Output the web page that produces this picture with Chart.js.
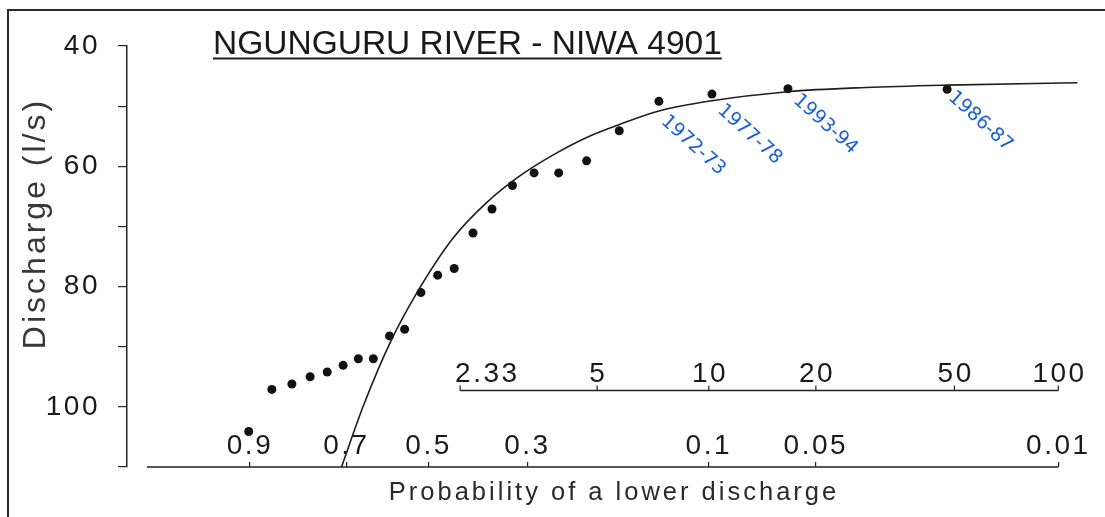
<!DOCTYPE html>
<html>
<head>
<meta charset="utf-8">
<script src="https://cdn.jsdelivr.net/npm/chart.js@4.4.0/dist/chart.umd.min.js"></script>
<style>
  html, body { margin: 0; padding: 0; background: #fff; }
  canvas { display: block; }
</style>
</head>
<body>
<canvas id="myChart" width="1105" height="517"></canvas>
<script>
// annual low flows: probability of a lower discharge, discharge (l/s)
var pointProb = [0.902, 0.863, 0.824, 0.785, 0.746, 0.708, 0.671, 0.634, 0.594, 0.557, 0.518, 0.479,
                 0.442, 0.402, 0.364, 0.326, 0.289, 0.251, 0.213, 0.175, 0.137, 0.098, 0.060, 0.021];
var pointFlow = [104.1, 97.1, 96.2, 95.0, 94.2, 93.1, 92.0, 92.0, 88.2, 87.1, 81.0, 78.1,
                 77.0, 71.1, 67.1, 63.2, 61.1, 61.1, 59.1, 54.1, 49.2, 48.0, 47.1, 47.2];

// fitted curve
var curveProb = [0.712, 0.659, 0.593, 0.528, 0.444, 0.374, 0.313, 0.259, 0.213, 0.174, 0.137, 0.098, 0.060, 0.036, 0.021, 0.0088];
var curveFlow = [110.0, 99.9, 89.4, 81.1, 71.9, 66.0, 61.6, 58.1, 55.2, 53.0, 50.8, 49.1, 47.6, 46.9, 46.5, 46.1];

// probability axis
var probTicks = [0.9, 0.7, 0.5, 0.3, 0.1, 0.05, 0.01];
var probLabels = ['0.9', '0.7', '0.5', '0.3', '0.1', '0.05', '0.01'];
var probAxisEnds = [0.99, 0.01];

// return period axis (years)
var returnPeriods = [2.33, 5, 10, 20, 50, 100];
var returnLabels = ['2.33', '5', '10', '20', '50', '100'];

// hand written notes
var noteText = ['1972-73', '1977-78', '1993-94', '1986-87'];
var noteProb = [0.133, 0.093, 0.057, 0.0205];
var noteFlow = [52.1, 50.3, 48.6, 48.1];

// gumbel reduced variate for a probability of a lower value
function gumbel(p) {
  return -Math.log(-Math.log(1 - p));
}

var TICK_FONT = '"Liberation Sans", Arial, sans-serif';

var scanPlugin = {
  id: 'scan',
  beforeDraw: function(chart) {
    var ctx = chart.ctx;
    ctx.save();
    ctx.fillStyle = '#fff';
    ctx.fillRect(0, 0, chart.width, chart.height);
    ctx.strokeStyle = '#2a2a2a';
    ctx.lineWidth = 2;
    ctx.beginPath();
    ctx.moveTo(8, chart.height);
    ctx.lineTo(8, 10);
    ctx.lineTo(chart.width, 10);
    ctx.stroke();
    ctx.restore();
    ctx.letterSpacing = '2.5px';
  },
  afterDraw: function(chart) {
    var ctx = chart.ctx;
    var xs = chart.scales.x, ys = chart.scales.y;
    var area = chart.chartArea;
    ctx.save();
    ctx.strokeStyle = '#222';
    ctx.fillStyle = '#1a1a1a';
    ctx.lineWidth = 1.5;

    // bottom probability axis line
    ctx.beginPath();
    ctx.moveTo(xs.getPixelForValue(gumbel(probAxisEnds[0])), area.bottom);
    ctx.lineTo(xs.getPixelForValue(gumbel(probAxisEnds[1])), area.bottom);
    ctx.stroke();

    // return period axis
    var ry = ys.getPixelForValue(97.3);
    var rx0 = xs.getPixelForValue(gumbel(1 / returnPeriods[0]));
    var rx1 = xs.getPixelForValue(gumbel(1 / returnPeriods[returnPeriods.length - 1]));
    ctx.beginPath();
    ctx.moveTo(rx0, ry);
    ctx.lineTo(rx1, ry);
    ctx.stroke();
    ctx.font = '28px ' + TICK_FONT;
    ctx.letterSpacing = '2.5px';
    ctx.textBaseline = 'alphabetic';
    ctx.lineWidth = 1.2;
    returnPeriods.forEach(function(t, i) {
      var px = xs.getPixelForValue(gumbel(1 / t));
      ctx.beginPath();
      ctx.moveTo(px, ry);
      ctx.lineTo(px, ry - 5);
      ctx.stroke();
      // first label starts at the axis end, the rest are centred
      if (i === 0) {
        ctx.textAlign = 'left';
        ctx.fillText(returnLabels[i], px - 5, ry - 9);
      } else {
        ctx.textAlign = 'center';
        ctx.fillText(returnLabels[i], px + 1.2, ry - 9);
      }
    });

    // axis titles
    ctx.textAlign = 'center';
    ctx.letterSpacing = '3px';
    ctx.fillStyle = '#2a2a2a';
    ctx.font = '25.5px ' + TICK_FONT;
    ctx.fillText('Probability of a lower discharge', 614, 500);
    ctx.save();
    ctx.translate(45, 225);
    ctx.rotate(-Math.PI / 2);
    ctx.font = '32px ' + TICK_FONT;
    ctx.fillStyle = '#383838';
    ctx.fillText('Discharge (l/s)', 1.5, 0);
    ctx.restore();

    // main title, underlined
    ctx.letterSpacing = '0px';
    ctx.font = '33.5px ' + TICK_FONT;
    ctx.textAlign = 'left';
    ctx.fillStyle = '#1a1a1a';
    var title = 'NGUNGURU RIVER - NIWA 4901';
    ctx.fillText(title, 213, 54);
    var w = ctx.measureText(title).width;
    ctx.lineWidth = 2;
    ctx.strokeStyle = '#1a1a1a';
    ctx.beginPath();
    ctx.moveTo(213, 58.5);
    ctx.lineTo(213 + w, 58.5);
    ctx.stroke();

    // hand written notes
    ctx.fillStyle = '#1a5fd6';
    ctx.font = '19px "DejaVu Sans", sans-serif';
    ctx.textBaseline = 'middle';
    noteText.forEach(function(txt, i) {
      ctx.save();
      ctx.translate(xs.getPixelForValue(gumbel(noteProb[i])), ys.getPixelForValue(noteFlow[i]));
      ctx.rotate(42 * Math.PI / 180);
      ctx.fillText(txt, 0, 0);
      ctx.restore();
    });
    ctx.restore();
  }
};

var ctx = document.getElementById('myChart').getContext('2d');
var myChart = new Chart(ctx, {
  type: 'scatter',
  data: {
    datasets: [{
      type: 'line',
      data: curveProb.map(function(p, i) { return {x: gumbel(p), y: curveFlow[i]}; }),
      borderColor: '#1e1e1e',
      borderWidth: 1.6,
      pointRadius: 0,
      cubicInterpolationMode: 'monotone',
      fill: false
    }, {
      data: pointProb.map(function(p, i) { return {x: gumbel(p), y: pointFlow[i]}; }),
      backgroundColor: '#111',
      borderColor: '#111',
      pointRadius: 4.5,
      borderWidth: 0
    }]
  },
  options: {
    responsive: false,
    animation: false,
    devicePixelRatio: 1,
    layout: { padding: { top: 46, right: 25, bottom: 0, left: 0 } },
    plugins: {
      legend: { display: false },
      tooltip: { enabled: false },
      title: { display: false }
    },
    scales: {
      x: {
        type: 'linear',
        min: -1.661,
        max: 4.746,
        border: { display: false },
        grid: { drawOnChartArea: false, drawTicks: true, tickLength: -5, color: '#222', lineWidth: 1.2 },
        afterBuildTicks: function(scale) {
          scale.ticks = probTicks.map(function(p) { return {value: gumbel(p)}; });
        },
        afterFit: function(scale) { scale.height = 50; },
        ticks: {
          mirror: true,
          padding: 4,
          autoSkip: false,
          maxRotation: 0,
          color: '#1a1a1a',
          font: { family: TICK_FONT, size: 28 },
          callback: function(val, i) { return probLabels[i]; }
        }
      },
      y: {
        type: 'linear',
        reverse: true,
        min: 40,
        max: 110,
        border: { display: true, color: '#222', width: 1.5 },
        grid: { drawOnChartArea: false, drawTicks: true, tickLength: 9, color: '#222', lineWidth: 1.2 },
        afterFit: function(scale) { scale.width = 127; },
        ticks: {
          stepSize: 10,
          padding: 18,
          color: '#1a1a1a',
          font: { family: TICK_FONT, size: 28 },
          callback: function(v) { return (v % 20 === 0 && v <= 100) ? v : ''; }
        }
      }
    }
  },
  plugins: [scanPlugin]
});
</script>
</body>
</html>
